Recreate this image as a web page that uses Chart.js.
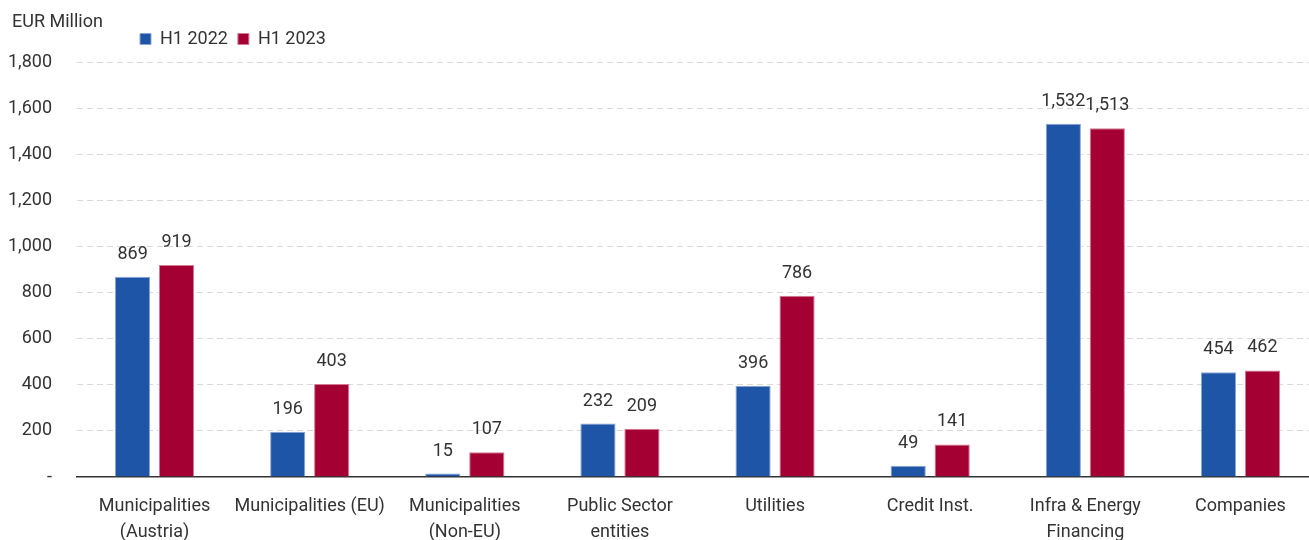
<!DOCTYPE html>
<html>
<head>
<meta charset="utf-8">
<script src="https://cdn.jsdelivr.net/npm/chart.js@4"></script>
<style>
  html, body { margin: 0; padding: 0; background: #fff; overflow: hidden; }
  #wrap { width: 1318px; height: 540px; }
</style>
</head>
<body>
<div id="wrap"><canvas id="grafico"></canvas></div>
<script>
const categorias = [
    ["Municipalities", "(Austria)"],
    "Municipalities (EU)",
    ["Municipalities", "(Non-EU)"],
    ["Public Sector", "entities"],
    "Utilities",
    "Credit Inst.",
    ["Infra & Energy", "Financing"],
    "Companies"
];
const valores2022 = [869, 196, 15, 232, 396, 49, 1532, 454];
const valores2023 = [919, 403, 107, 209, 786, 141, 1513, 462];
const series = ["H1 2022", "H1 2023"];
const ticksY = [0, 200, 400, 600, 800, 1000, 1200, 1400, 1600, 1800];

const FONTE = "Roboto, 'Liberation Sans', sans-serif";
const COR_TEXTO = "#333";

// RÓTULOS EM CIMA DAS BARRAS
const rotulos = {
    id: "rotulos",
    afterDatasetsDraw(chart) {
        const c = chart.ctx;
        c.save();
        c.font = "18px " + FONTE;
        c.fillStyle = COR_TEXTO;
        c.textAlign = "center";
        c.textBaseline = "alphabetic";
        chart.data.datasets.forEach((ds, i) => {
            chart.getDatasetMeta(i).data.forEach((bar, j) => {
                c.fillText(ds.data[j].toLocaleString("en-US"), bar.x, bar.y - 18);
            });
        });
        c.restore();
    }
};

// TÍTULO E LEGENDA: POSIÇÃO
const ajustarTopo = {
    id: "ajustarTopo",
    afterLayout(chart) {
        chart.titleBlock.left += 12;
        const lg = chart.legend;
        lg.left += 130;
        lg.right += 130;
        lg.top -= 4;
        lg.bottom -= 4;
    }
};

const ctx = document.getElementById("grafico").getContext("2d");

new Chart(ctx, {
    type: "bar",
    data: {
        labels: categorias,
        datasets: [
            {
                label: series[0],
                data: valores2022,
                backgroundColor: "#1f55a6",
                borderColor: "#8aa5d6",
                borderWidth: 1,
                borderSkipped: "bottom"
            },
            {
                label: series[1],
                data: valores2023,
                backgroundColor: "#a50034",
                borderColor: "#d27a94",
                borderWidth: 1,
                borderSkipped: "bottom"
            }
        ]
    },
    options: {
        responsive: true,
        maintainAspectRatio: false,
        animation: false,
        layout: { padding: 0 },
        datasets: {
            bar: { categoryPercentage: 0.567, barPercentage: 0.8 }
        },
        plugins: {
            title: {
                display: true,
                text: "EUR Million",
                align: "start",
                color: COR_TEXTO,
                font: { family: FONTE, size: 18, weight: "normal", lineHeight: 1 },
                padding: { top: 13, bottom: -7 }
            },
            legend: {
                display: true,
                align: "start",
                labels: {
                    color: COR_TEXTO,
                    font: { family: FONTE, size: 18 },
                    boxWidth: 11,
                    boxHeight: 11,
                    padding: 10,
                    useBorderRadius: false
                }
            },
            tooltip: { enabled: false }
        },
        scales: {
            x: {
                grid: { display: false },
                border: { display: true, color: "#333", width: 1.5 },
                afterFit(axis) { axis.height = 63; },
                ticks: {
                    color: COR_TEXTO,
                    font: { family: FONTE, size: 18, lineHeight: 1.45 },
                    padding: 8,
                    maxRotation: 0,
                    autoSkip: false
                }
            },
            y: {
                min: 0,
                max: 1800,
                afterBuildTicks(axis) {
                    axis.ticks = ticksY.map(v => ({ value: v }));
                },
                afterFit(axis) { axis.width = 77; },
                grid: {
                    drawTicks: false,
                    color: c => c.tick && c.tick.value === 0 ? "rgba(0,0,0,0)" : "#d9d9d9",
                    lineWidth: 1
                },
                border: { display: false, dash: [6, 4] },
                ticks: {
                    color: COR_TEXTO,
                    font: { family: FONTE, size: 18 },
                    padding: 25,
                    callback: v => v === 0 ? "-" : v.toLocaleString("en-US")
                }
            }
        }
    },
    plugins: [rotulos, ajustarTopo]
});
</script>
</body>
</html>
